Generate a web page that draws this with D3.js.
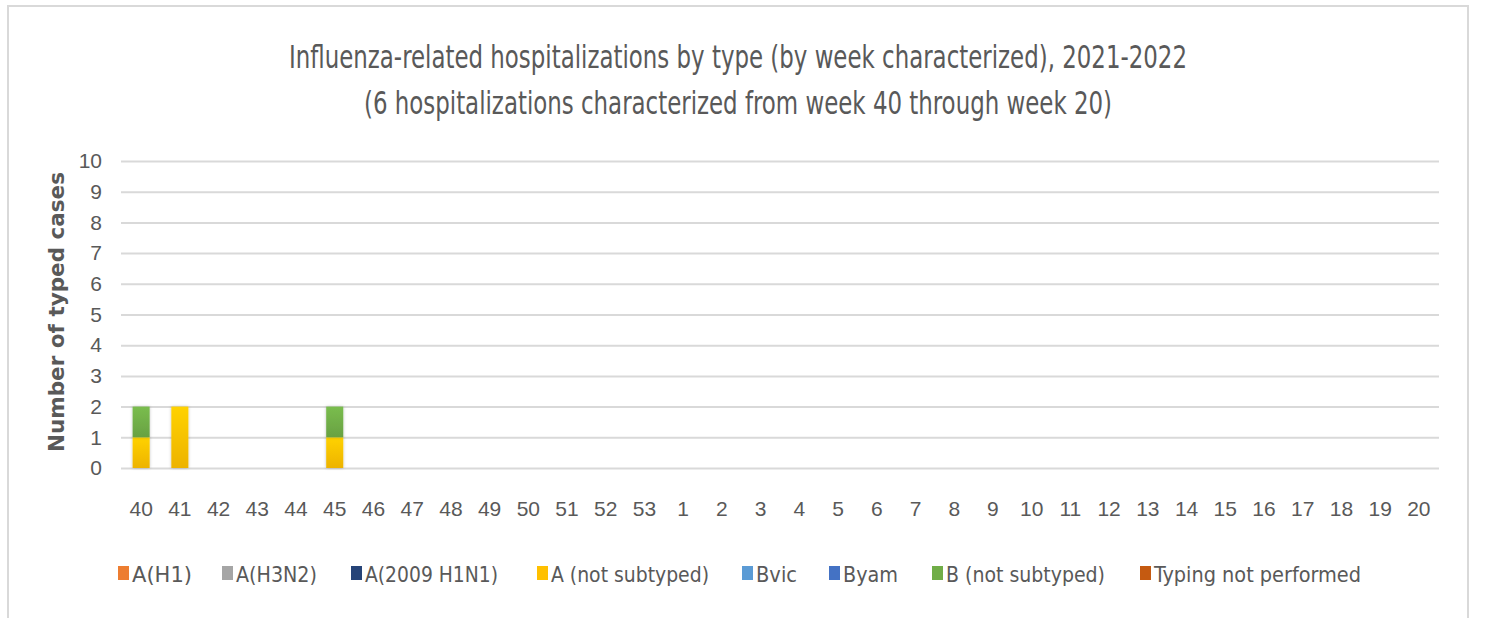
<!DOCTYPE html>
<html lang="en">
<head>
  <meta charset="UTF-8">
  <title>Influenza-related hospitalizations by type</title>
  <script src="https://d3js.org/d3.v7.min.js"></script>
  <style>
    body {
      margin: 0;
      background: #fff;
      font-family: "Liberation Sans Narrow", "DejaVu Sans Condensed", "Noto Sans", sans-serif;
    }
    .tick text {
      fill: #595959;
    }
  </style>
</head>
<body>
  <div id="chart"></div>

  <script>
    // weeks 40..53 then 1..20
    const weeks = ["40","41","42","43","44","45","46","47","48","49","50","51","52","53",
      "1","2","3","4","5","6","7","8","9","10","11","12","13","14","15","16","17","18","19","20"];

    const seriesNames = ["A(H1)", "A(H3N2)", "A(2009 H1N1)", "A (not subtyped)",
      "Bvic", "Byam", "B (not subtyped)", "Typing not performed"];
    const seriesColors = ["#ED7D31", "#A5A5A5", "#264478", "#FFC000",
      "#5B9BD5", "#4472C4", "#70AD47", "#C55A11"];

    const zeros = weeks.map(() => 0);
    const aH1 = zeros.slice();
    const aH3N2 = zeros.slice();
    const a2009 = zeros.slice();
    const aNotSub = [1, 2, 0, 0, 0, 1, 0, 0, 0, 0, 0, 0, 0, 0, 0, 0, 0, 0, 0, 0, 0, 0, 0, 0, 0, 0, 0, 0, 0, 0, 0, 0, 0, 0];
    const bvic = zeros.slice();
    const byam = zeros.slice();
    const bNotSub = [1, 0, 0, 0, 0, 1, 0, 0, 0, 0, 0, 0, 0, 0, 0, 0, 0, 0, 0, 0, 0, 0, 0, 0, 0, 0, 0, 0, 0, 0, 0, 0, 0, 0];
    const notTyped = zeros.slice();

    const yTicks = [0, 1, 2, 3, 4, 5, 6, 7, 8, 9, 10];

    const titleLines = [
      "Influenza-related hospitalizations by type (by week characterized), 2021-2022",
      "(6 hospitalizations characterized from week 40 through week 20)"
    ];

    const seriesValues = [aH1, aH3N2, a2009, aNotSub, bvic, byam, bNotSub, notTyped];

    const W = 1486, H = 618;
    const plot = {left: 121, right: 1439, top: 161, bottom: 468};

    const svg = d3.select("#chart")
      .append("svg")
      .attr("width", W)
      .attr("height", H);

    const defs = svg.append("defs");
    seriesColors.forEach((c, i) => {
      const g = defs.append("linearGradient")
        .attr("id", "grad" + i)
        .attr("x1", 0).attr("y1", 0).attr("x2", 0).attr("y2", 1);
      g.append("stop").attr("offset", "0%").attr("stop-color", d3.color(c).brighter(0.25));
      g.append("stop").attr("offset", "100%").attr("stop-color", d3.color(c).darker(0.2));
    });
    defs.append("filter")
      .attr("id", "shadow")
      .attr("x", "-40%").attr("y", "-10%").attr("width", "180%").attr("height", "120%")
      .append("feDropShadow")
      .attr("dx", 0).attr("dy", 0).attr("stdDeviation", 1.5)
      .attr("flood-color", "#000").attr("flood-opacity", 0.25);

    // frame
    svg.append("rect")
      .attr("x", 8).attr("y", 6)
      .attr("width", 1460).attr("height", 650)
      .attr("fill", "#fff")
      .attr("stroke", "#d9d9d9")
      .attr("stroke-width", 2);

    // title
    svg.selectAll(".title")
      .data(titleLines)
      .join("text")
      .attr("class", "title")
      .attr("x", 738)
      .attr("y", (d, i) => 68 + i * 46)
      .attr("text-anchor", "middle")
      .attr("font-size", 32)
      .attr("fill", "#595959")
      .attr("textLength", (d, i) => i === 0 ? 898 : 748)
      .attr("lengthAdjust", "spacingAndGlyphs")
      .text(d => d);

    const x = d3.scaleBand()
      .domain(weeks)
      .range([plot.left, plot.right])
      .paddingInner(0.56)
      .paddingOuter(0.3);

    const y = d3.scaleLinear()
      .domain([0, 10])
      .range([plot.bottom, plot.top]);

    // gridlines + y labels
    const yAxis = svg.append("g")
      .attr("transform", `translate(${plot.left},0)`)
      .call(d3.axisLeft(y)
        .tickValues(yTicks)
        .tickSize(-(plot.right - plot.left))
        .tickPadding(19));
    yAxis.select(".domain").remove();
    yAxis.selectAll(".tick line")
      .attr("stroke", "#d9d9d9")
      .attr("stroke-width", 2);
    yAxis.selectAll(".tick text")
      .attr("font-size", 21)
      .attr("font-family", "inherit");

    // x labels
    const xAxis = svg.append("g")
      .attr("transform", `translate(0,${plot.bottom})`)
      .call(d3.axisBottom(x).tickSize(0).tickPadding(33));
    xAxis.select(".domain").remove();
    xAxis.selectAll(".tick text")
      .attr("font-size", 21)
      .attr("font-family", "inherit");

    // stacked bars
    const table = weeks.map((w, i) => {
      const row = {week: w};
      seriesNames.forEach((s, j) => { row[s] = seriesValues[j][i]; });
      return row;
    });
    const stacked = d3.stack().keys(seriesNames)(table);

    svg.append("g")
      .selectAll("g")
      .data(stacked)
      .join("g")
      .attr("fill", (d, i) => `url(#grad${i})`)
      .selectAll("rect")
      .data(d => d.filter(p => p[1] - p[0] > 0))
      .join("rect")
      .attr("x", d => x(d.data.week))
      .attr("width", x.bandwidth())
      .attr("y", d => y(d[1]))
      .attr("height", d => y(d[0]) - y(d[1]))
      .attr("filter", "url(#shadow)");

    // axis title
    svg.append("text")
      .attr("transform", "translate(64,312) rotate(-90)")
      .attr("text-anchor", "middle")
      .attr("font-size", 21)
      .attr("font-weight", "bold")
      .attr("fill", "#595959")
      .attr("textLength", 280)
      .attr("lengthAdjust", "spacingAndGlyphs")
      .text("Number of typed cases");

    // legend
    const legendX = [118, 222, 351, 537, 742, 829, 932, 1140];
    const legendW = [60, 81, 133, 158, 41, 55, 159, 207];
    const legend = svg.append("g")
      .selectAll("g")
      .data(seriesNames)
      .join("g")
      .attr("transform", (d, i) => `translate(${legendX[i]},0)`);
    legend.append("rect")
      .attr("x", 0).attr("y", 566)
      .attr("width", 11).attr("height", 14)
      .attr("fill", (d, i) => seriesColors[i]);
    legend.append("text")
      .attr("x", 14).attr("y", 582)
      .attr("font-size", 22)
      .attr("fill", "#595959")
      .attr("textLength", (d, i) => legendW[i])
      .attr("lengthAdjust", "spacingAndGlyphs")
      .text(d => d);
  </script>
</body>
</html>
